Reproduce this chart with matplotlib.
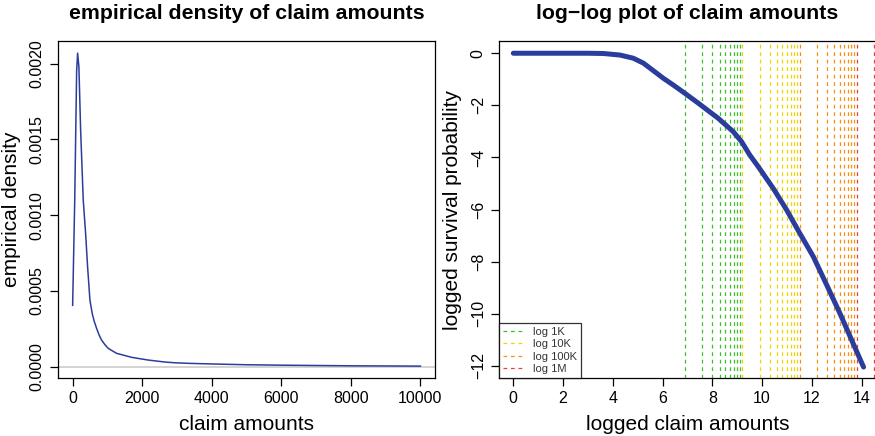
import numpy as np
import matplotlib.pyplot as plt

plt.rcParams['font.family'] = ['Liberation Sans', 'DejaVu Sans']

# left panel: empirical density
dens_x = [0, 60, 115, 143, 180, 230, 305, 373, 430, 497, 564, 620, 689, 760,
          832, 930, 1024, 1263, 1694, 2172, 2650, 2937, 3368, 4037, 5000, 6047,
          7000, 8000, 9000, 10000]
dens_y = [0.000405, 0.00110, 0.00195, 0.00207, 0.00198, 0.00156, 0.00110,
          0.00088, 0.00066, 0.00044, 0.00035, 0.00030, 0.000253, 0.000210,
          0.000176, 0.000145, 0.000121, 0.0000883, 0.000062, 0.000044,
          0.000031, 0.000026, 0.000022, 0.000018, 0.000013, 0.000010,
          0.000008, 0.000006, 0.000005, 0.000004]

# right panel: log-log survival curve
ll_x = [0.0, 1.0, 2.0, 3.0, 3.62, 4.29, 4.82, 5.23, 5.63, 6.03, 6.43, 6.90,
        7.44, 8.24, 8.84, 9.18, 9.50, 9.85, 10.45, 10.99, 11.52, 12.06, 12.60,
        13.13, 13.60, 14.08]
ll_y = [0.0, 0.0, 0.0, 0.0, -0.01, -0.07, -0.19, -0.38, -0.67, -0.96, -1.22,
        -1.54, -1.92, -2.50, -3.01, -3.40, -3.90, -4.36, -5.19, -6.02, -6.92,
        -7.81, -8.90, -9.99, -11.01, -12.05]

ref_amounts = {
    'log 1K': [k * 1e3 for k in range(1, 10)],
    'log 10K': [k * 1e4 for k in range(1, 10)],
    'log 100K': [k * 1e5 for k in range(1, 10)],
    'log 1M': [k * 1e6 for k in range(1, 10)],
}
ref_colors = ['#3cc02c', '#f0d400', '#f79012', '#ee3c3c']

W, H = 875, 436
fig = plt.figure(figsize=(W / 100, H / 100), dpi=100)

def box(l, t, r, b):
    return [l / W, 1 - b / H, (r - l) / W, (b - t) / H]

blue = '#2b3d9c'
tick_kw = dict(direction='out', length=5.5, width=0.9, labelsize=11.5, pad=4)

# ---- left panel
ax1 = fig.add_axes(box(58, 41, 435, 378))
ax1.axhline(0, color='#cccccc', lw=1.2, zorder=1)
ax1.plot(dens_x, dens_y, color=blue, lw=1.1, zorder=2)
ax1.set_xlim(-421, 10420)
ax1.set_ylim(-0.0000745, 0.00215)
ax1.set_xticks([0, 2000, 4000, 6000, 8000, 10000])
ax1.set_yticks([0, 0.0005, 0.001, 0.0015, 0.002])
ax1.set_yticklabels(['0.0000', '0.0005', '0.0010', '0.0015', '0.0020'])
ax1.tick_params(**tick_kw)
ax1.set_title('empirical density of claim amounts', fontsize=15.3,
              fontweight='bold', pad=16)
ax1.set_xlabel('claim amounts', fontsize=15, labelpad=6)
ax1.set_ylabel('empirical density', fontsize=15, labelpad=6)

# ---- right panel
ax2 = fig.add_axes(box(499, 41, 876, 378))
for (lab, amts), col in zip(ref_amounts.items(), ref_colors):
    for i, a in enumerate(amts):
        ax2.axvline(np.log(a), color=col, lw=0.9, ls=(0, (3, 3)),
                    label=lab if i == 0 else None, zorder=1)
ax2.plot(ll_x, ll_y, color=blue, lw=3.6, solid_capstyle='round', zorder=2)
ax2.set_xlim(-0.575, 14.58)
ax2.set_ylim(-12.47, 0.47)
ax2.set_xticks(range(0, 15, 2))
ax2.set_yticks(range(-12, 1, 2))
ax2.tick_params(**tick_kw)
ax2.spines['right'].set_visible(False)
ax2.set_title('log\u2212log plot of claim amounts', fontsize=15.3,
              fontweight='bold', pad=16)
ax2.set_xlabel('logged claim amounts', fontsize=15, labelpad=6)
ax2.set_ylabel('logged survival probability', fontsize=15, labelpad=6)
leg = ax2.legend(loc='lower left', fontsize=8, frameon=True, fancybox=False,
                 borderaxespad=0, borderpad=0.35, labelspacing=0.22,
                 handlelength=1.8, handletextpad=0.9)
leg.get_frame().set_edgecolor('black')
leg.get_frame().set_linewidth(0.9)
for t in leg.get_texts():
    t.set_color('#333333')

for ax in (ax1, ax2):
    for s in ax.spines.values():
        s.set_linewidth(0.9)
    for lbl in ax.get_yticklabels():
        lbl.set_rotation(90)
        lbl.set_va('center')

fig.savefig('out.png', dpi=100)
